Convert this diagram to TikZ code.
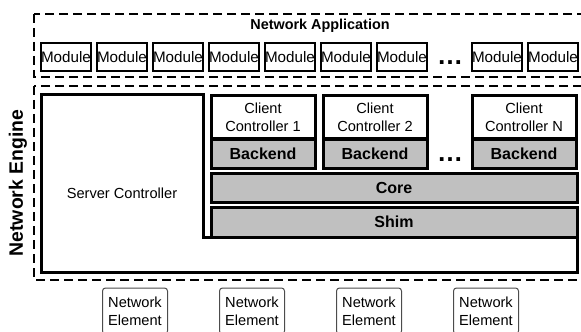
\documentclass[tikz,border=0pt]{standalone}
\usepackage{fontspec}
\setmainfont{Liberation Sans}
\usetikzlibrary{positioning}
\definecolor{shade}{RGB}{192,192,192}

\begin{document}
\begin{tikzpicture}[x=0.5pt,y=-0.5pt]
\tikzstyle{every node}=[font=\fontsize{7.3}{9}\selectfont, align=center, inner sep=0pt, outer sep=0pt]
\tikzstyle{frame}=[draw, line width=1.5pt]
\tikzstyle{client}=[frame, fill=white, minimum width=52pt, minimum height=21.5pt]
\tikzstyle{backend}=[frame, fill=shade, minimum width=52pt, minimum height=14.5pt, font=\fontsize{8}{9}\selectfont\bfseries]
\tikzstyle{layer}=[frame, fill=shade, minimum width=183pt, font=\fontsize{8}{9}\selectfont\bfseries]
\tikzstyle{module}=[draw, line width=0.8pt, minimum width=25pt, minimum height=14pt, font=\fontsize{7.6}{9}\selectfont]
\tikzstyle{element}=[draw=black!70, line width=0.5pt, rounded corners=1.5pt, minimum width=32.5pt, minimum height=23pt]
\tikzstyle{dashedbox}=[draw, line width=0.75pt, dash pattern=on 4.5pt off 2.5pt]
\tikzstyle{gap}=[font=\fontsize{13}{13}\selectfont\bfseries]
\useasboundingbox (0,0) rectangle (581,331);
\clip (0,0) rectangle (581,331);
% the application and its modules
\draw[dashedbox] (34,14) rectangle (590,77);
\node[font=\fontsize{7.2}{9}\selectfont\bfseries] (app) at (320,26) {Network Application};
\node[module] (m1) at (66,57) {Module};
\node[module, right=3pt of m1] (m2) {Module};
\node[module, right=3pt of m2] (m3) {Module};
\node[module, right=3pt of m3] (m4) {Module};
\node[module, right=3pt of m4] (m5) {Module};
\node[module, right=3pt of m5] (m6) {Module};
\node[module, right=3pt of m6] (m7) {Module};
\node[gap] (mdots) at (450,63) {\textellipsis};
\node[module, right=22.5pt of m7] (m8) {Module};
\node[module, right=3pt of m8] (m9) {Module};
% the engine
\draw[dashedbox] (34,86) rectangle (590,280);
\node[font=\fontsize{9.7}{11}\selectfont\bfseries, rotate=90] (engine) at (18,183) {Network Engine};
\draw[frame] (41,95) -- (203,95) -- (203,237) -- (577,237) -- (577,272) -- (41,272) -- cycle;
\node (server) at (122,193) {Server Controller};
\node[client] (cc1) at (263,117.5) {Client\\Controller 1};
\node[client, right=4pt of cc1] (cc2) {Client\\Controller 2};
\node[client] (ccN) at (524,117.5) {Client\\Controller N};
\node[backend, below=0pt of cc1] (be1) {Backend};
\node[backend, below=0pt of cc2] (be2) {Backend};
\node[backend, below=0pt of ccN] (beN) {Backend};
\node[gap] (bdots) at (450,160) {\textellipsis};
\node[layer, minimum height=14.5pt] (core) at (394,187.5) {Core};
\node[layer, minimum height=15pt, below=2.5pt of core] (shim) {Shim};
% the elements below
\node[element] (ne1) at (135,311) {Network\\Element};
\node[element, right=26pt of ne1] (ne2) {Network\\Element};
\node[element, right=26pt of ne2] (ne3) {Network\\Element};
\node[element, right=26pt of ne3] (ne4) {Network\\Element};
\end{tikzpicture}
\end{document}
